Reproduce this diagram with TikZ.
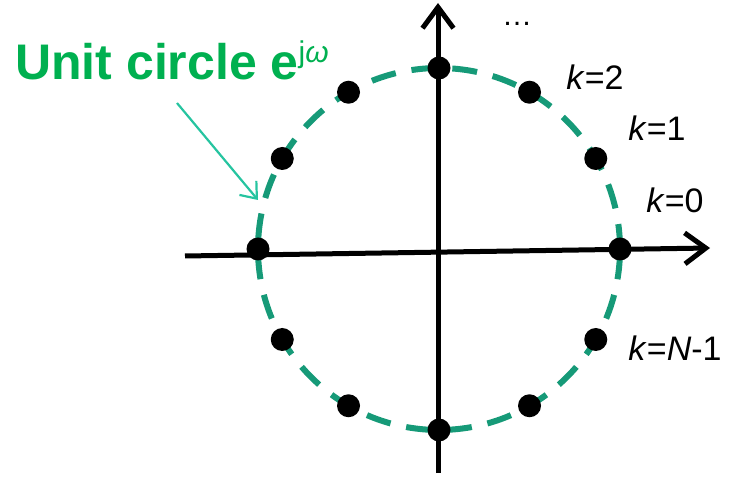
\documentclass[tikz,border=0pt]{standalone}
\usepackage{fontspec}
\setmainfont{Liberation Sans}
\usetikzlibrary{arrows.meta}
\definecolor{titlegreen}{HTML}{00B050}
\definecolor{ringgreen}{HTML}{169A78}
\definecolor{pointer}{HTML}{26C4A0}
\begin{document}
\begin{tikzpicture}[x=1pt, y=1pt,
axis/.style={line width=5pt, -{Straight Barb[length=21pt, width=31pt, line width=5pt]}},
ring/.style={ringgreen, line width=6pt, dash pattern=on 25pt off 16pt},
dot/.style={circle, fill=black, inner sep=0pt, minimum size=23pt},
klabel/.style={font=\fontsize{34}{40}\selectfont, inner sep=0pt}]
\useasboundingbox (0,0) rectangle (741,479);
\coordinate (O) at (439,230);
\coordinate (xs) at (185,223);
\coordinate (xe) at (710,231);
\coordinate (ys) at (438,6);
\coordinate (ye) at (438,476);
\draw[axis] (xs) -- (xe);
\draw[axis] (ys) -- (ye);
\draw[ring] (O) circle [radius=181];
\foreach \i in {0,...,11}
\node[dot] (p\i) at ([shift={(\i*30:181)}]O) {};
\node[klabel] (kz) at (675,279) {\textit{k}=0};
\node[klabel] (ko) at (657,351) {\textit{k}=1};
\node[klabel] (kt) at (595,402) {\textit{k}=2};
\node[klabel] (kn) at (675,131) {\textit{k}=\textit{N}-1};
\node[klabel, font=\fontsize{30}{34}\selectfont] (dots) at (517,455) {…};
\node[anchor=base west, inner sep=0pt, text=titlegreen] (title) at (15,399)
{\fontsize{50}{56}\selectfont\bfseries Unit circle e\raisebox{17pt}{\fontsize{30}{34}\mdseries\selectfont j\textit{ω}}};
\coordinate (tail) at (177,376);
\coordinate (tip) at (258,279);
\draw[pointer, line width=2.2pt, -{Straight Barb[length=14pt, width=22pt, line width=2.2pt]}] (tail) -- (tip);
\end{tikzpicture}
\end{document}
